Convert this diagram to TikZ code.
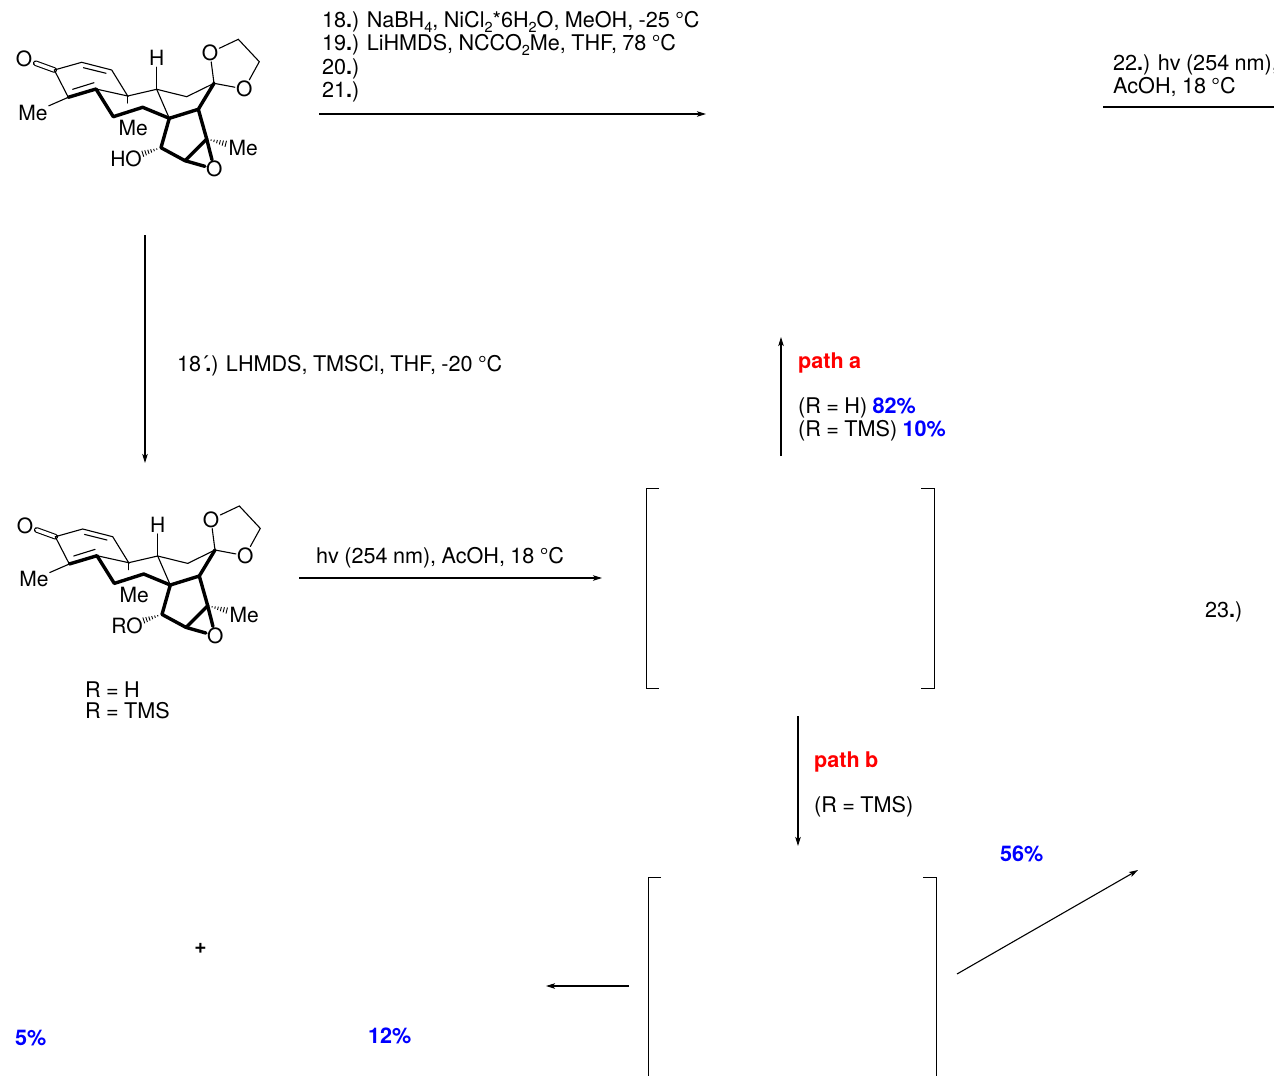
\documentclass[tikz,border=0pt]{standalone}
\usepackage{fontspec}
\setmainfont[WordSpace=0.9]{TeX Gyre Heros}
\usepackage{xcolor}
\usetikzlibrary{arrows.meta,calc}

\tikzset{
    txt/.style={anchor=base west, inner sep=0pt, font=\fontsize{21.6}{23}\selectfont},
    atom/.style={inner sep=1pt, font=\fontsize{21}{23}\selectfont},
    bond/.style={line width=1.1pt, line cap=round},
    bold bond/.style={line width=3.4pt, line cap=round, line join=round},
    arrow/.style={line width=1.1pt, -{Stealth[length=9pt, width=5.5pt, inset=2pt]}},
    bracket/.style={line width=0.8pt},
}
\newcommand{\chemsub}[1]{\raisebox{-0.25em}[0pt][0pt]{\fontsize{14.5}{14.5}\selectfont #1}}
\newcommand{\pct}[1]{\textcolor{blue}{\bfseries #1}}
\newcommand{\pathname}[1]{\textcolor{red}{\bfseries #1}}
% hashed bond growing from #1 towards #2
\newcommand{\hashbond}[2]{
    \foreach \t in {0.12,0.2,0.28,0.36,0.44,0.52}
        \draw [line width=0.9pt] ($(#1)!\t!(#2)!\t*6pt!90:(#2)$) -- ($(#1)!\t!(#2)!\t*6pt!-90:(#2)$);
}

% the tetracyclic enone, #1 is the group on the oxygen
\newcommand{\enone}[1]{
    \coordinate (c1) at (54.3,70);
    \coordinate (c2) at (81.7,62.3);
    \coordinate (c3) at (111.7,70);
    \coordinate (c4) at (127.7,96);
    \coordinate (c4me) at (127.7,103);
    \coordinate (c5) at (96,89);
    \coordinate (c6) at (68.3,97.3);
    \coordinate (c7) at (113.3,116.7);
    \coordinate (c8) at (142.7,107.3);
    \coordinate (c9) at (169.3,118.3);
    \coordinate (c10) at (198.3,109.3);
    \coordinate (c11) at (156.7,89.3);
    \coordinate (c12) at (186.7,96.7);
    \coordinate (c13) at (214,83.3);
    \coordinate (c14) at (206.7,139);
    \coordinate (c15) at (185,160.7);
    \coordinate (c16) at (161,147.7);
    \coordinate (c17) at (238.3,39.3);
    \coordinate (c18) at (259.3,61.7);
    \coordinate (in1) at (83.5,67.7);
    \coordinate (in2) at (106,73.3);
    \coordinate (in3) at (72.7,89.3);
    \coordinate (in4) at (94,82.7);
    \node [atom] (oxo) at (24,59) {O};
    \node [atom] (mea) at (33,112.7) {Me};
    \node [atom] (hyd) at (156.7,58.3) {H};
    \node [atom] (meb) at (133.3,128.3) {Me};
    \node [atom] (mec) at (243.3,148.3) {Me};
    \node [atom] (oxa) at (210,52.7) {O};
    \node [atom] (oxb) at (244.3,89) {O};
    \node [atom] (oxc) at (214.3,169) {O};
    \node [atom] (oxd) at (126,159.3) {#1};
    \draw [bond, double, double distance=3.4pt, shorten >=2.5pt] (c1) -- (oxo);
    \draw [bond] (c1) -- (c2) -- (c3) -- (c4) -- (c5);
    \draw [bond] (in1) -- (in2);
    \draw [bond] (in3) -- (in4);
    \draw [bond] (c1) -- (c6) -- (mea);
    \draw [bond] (c4) -- (c11) -- (c9);
    \draw [bond] (c4) -- (c4me);
    \draw [bond] (c11) -- (hyd);
    \draw [bond] (c11) -- (c12) -- (c13);
    \draw [bond] (c13) -- (oxa) -- (c17) -- (c18) -- (oxb) -- (c13);
    \draw [bold bond] (c6) -- (c5) -- (c7) -- (c8) -- (c9) -- (c10) -- (c13);
    \draw [bold bond] (c9) -- (c16) -- (c15) -- (c14) -- (c10);
    \draw [bold bond] (c15) -- (oxc) -- (c14);
    \hashbond{c14}{mec}
    \hashbond{c16}{oxd}
}

\begin{document}
\begin{tikzpicture}[x=1pt, y=-1pt]
    \useasboundingbox (0,0) rectangle (1274,1076);

    \begin{scope}[name prefix=top-]
        \enone{HO}
    \end{scope}
    \begin{scope}[name prefix=low-, shift={(1,466.7)}]
        \enone{RO}
    \end{scope}

    % reagents
    \node [txt] (stepa) at (322,27.5) {18\textbf{.}) NaBH\chemsub{4}, NiCl\chemsub{2}*6H\chemsub{2}O, MeOH, -25 °C};
    \node [txt] (stepb) at (322,50.5) {19\textbf{.}) LiHMDS, NCCO\chemsub{2}Me, THF, 78 °C};
    \node [txt] (stepc) at (322,74) {20\textbf{.})};
    \node [txt] (stepd) at (322,97) {21\textbf{.})};
    \node [txt] (stepe) at (1113,70) {22\textbf{.}) hv (254 nm),};
    \node [txt] (stepf) at (1113,93) {AcOH, 18 °C};
    \node [txt] (stepg) at (177,371) {18´\kern-3pt\textbf{.}) LHMDS, TMSCl, THF, -20 °C};
    \node [txt] (steph) at (316,563) {hv (254 nm), AcOH, 18 °C};
    \node [txt] (stepi) at (1205,617) {23\textbf{.})};
    \node [txt] (rh) at (85,697) {R = H};
    \node [txt] (rtms) at (85,718) {R = TMS};

    \node [txt] (patha) at (798,368) {\pathname{path a}};
    \node [txt] (yielda) at (798,413) {(R = H) \pct{82\%}};
    \node [txt] (yieldb) at (798,436) {(R = TMS) \pct{10\%}};
    \node [txt] (pathb) at (814,767) {\pathname{path b}};
    \node [txt] (condb) at (814,812) {(R = TMS)};
    \node [txt] (yieldc) at (1000,861) {\pct{56\%}};
    \node [txt] (yieldd) at (15,1045) {\pct{5\%}};
    \node [txt] (yielde) at (368,1043.5) {\pct{12\%}};
    \node [inner sep=0pt, font=\bfseries\fontsize{21}{21}\selectfont] (plus) at (200.5,948.5) {+};

    % arrow ends
    \coordinate (aa) at (319,114);
    \coordinate (ab) at (706,114);
    \coordinate (ba) at (1103,107);
    \coordinate (bb) at (1274,107);
    \coordinate (ca) at (145,235);
    \coordinate (cb) at (145,463);
    \coordinate (da) at (299,578);
    \coordinate (db) at (602,578);
    \coordinate (ea) at (781,456);
    \coordinate (eb) at (781,337);
    \coordinate (fa) at (798,716);
    \coordinate (fb) at (798,846);
    \coordinate (ga) at (629,986);
    \coordinate (gb) at (546,986);
    \coordinate (ha) at (957,974);
    \coordinate (hb) at (1138,870);
    \draw [arrow] (aa) -- (ab);
    \draw [line width=1.4pt] (ba) -- (bb);
    \draw [arrow] (ca) -- (cb);
    \draw [arrow] (da) -- (db);
    \draw [arrow] (ea) -- (eb);
    \draw [arrow] (fa) -- (fb);
    \draw [arrow] (ga) -- (gb);
    \draw [arrow] (ha) -- (hb);

    % brackets
    \draw [bracket] (659,488) -- (646,488) -- (646,688) -- (659,688);
    \draw [bracket] (921,488) -- (934,488) -- (934,688) -- (921,688);
    \draw [bracket] (661,877) -- (648,877) -- (648,1076);
    \draw [bracket] (923,877) -- (936,877) -- (936,1076);
\end{tikzpicture}
\end{document}
